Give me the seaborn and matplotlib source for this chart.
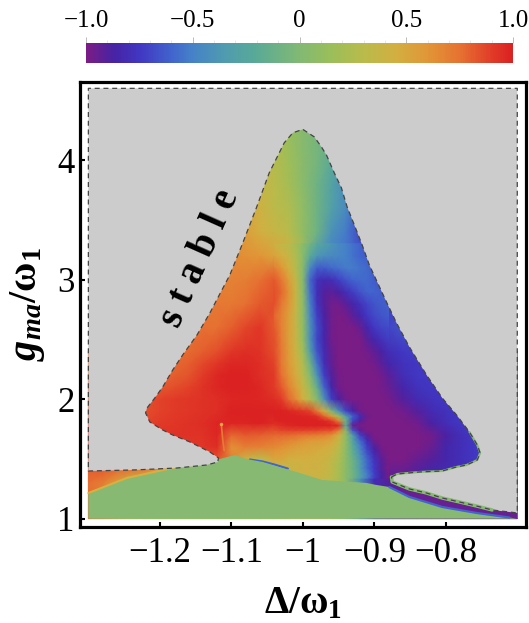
import numpy as np
import pandas as pd
import matplotlib
matplotlib.use("Agg")
import matplotlib.pyplot as plt
from matplotlib.colors import LinearSegmentedColormap
from matplotlib.transforms import Affine2D
import seaborn as sns

sns.set_style("white")
plt.rcParams["font.family"] = ["Liberation Serif", "DejaVu Serif"]
plt.rcParams["text.color"] = "black"
plt.rcParams["axes.labelcolor"] = "black"
plt.rcParams["xtick.color"] = "black"
plt.rcParams["ytick.color"] = "black"
plt.rcParams["mathtext.fontset"] = "custom"
plt.rcParams["mathtext.rm"] = "Liberation Serif"
plt.rcParams["mathtext.it"] = "Liberation Serif:italic"
plt.rcParams["mathtext.bf"] = "Liberation Serif:bold"
plt.rcParams["mathtext.bfit"] = "Liberation Serif:italic:bold"

# colour scale at the top
scale_nodes = [-1, -.87, -.75, -.6, -.5, -.35, -.2, 0, .15, .3, .45, .6, .75, .9, 1]
scale_colors = ["#7A1C86", "#4623A5", "#4137C3", "#4164CD", "#4682C8", "#509BAF", "#5AAA96", "#82B973",
                "#9BBE5A", "#B9BB4B", "#D2AF41", "#E19637", "#E67332", "#E13C28", "#DB2122"]

# field below g=2.4, in hundredths, x from -1.30 to -0.70 in steps of 0.02
lower_g = [1.0, 1.1, 1.2, 1.3, 1.4, 1.5, 1.6, 1.7, 1.8, 1.9, 2.0, 2.1, 2.2, 2.3, 2.4]
lower_rows = [
    [75, 70, 55, 30, 20, 20, 20, 20, 20, 20, 20, 20, 20, 20, 30, 35, 35, 30, 10, -40, -80, -90, -95, -95, -95, -95, -95, -95, -95, -95, -95],
    [75, 70, 55, 30, 20, 20, 20, 20, 20, 20, 20, 20, 20, 20, 30, 35, 35, 30, 10, -40, -80, -90, -95, -95, -95, -95, -95, -95, -95, -95, -95],
    [75, 70, 55, 30, 20, 20, 20, 20, 20, 20, 20, 20, 20, 20, 30, 35, 35, 30, 10, -40, -80, -90, -95, -95, -95, -95, -95, -95, -95, -95, -95],
    [75, 70, 55, 30, 20, 20, 20, 20, 20, 20, 20, 20, 20, 20, 30, 35, 35, 30, 10, -40, -80, -90, -95, -95, -95, -92, -90, -90, -90, -90, -90],
    [80, 80, 75, 70, 65, 60, 55, 45, 40, 40, 40, 40, 30, 30, 30, 35, 40, 30, 5, -50, -85, -95, -95, -90, -85, -82, -80, -78, -78, -78, -78],
    [85, 85, 85, 85, 85, 85, 85, 85, 85, 85, 70, 40, 30, 50, 40, 45, 48, 35, 10, -50, -85, -100, -100, -95, -90, -85, -80, -75, -72, -72, -72],
    [92, 92, 92, 92, 92, 92, 92, 92, 92, 95, 62, 70, 68, 65, 55, 55, 50, 40, 10, -55, -85, -100, -100, -100, -95, -85, -80, -75, -72, -72, -72],
    [93, 93, 93, 93, 93, 93, 93, 93, 93, 97, 78, 82, 80, 78, 65, 65, 60, 55, 5, -75, -95, -100, -100, -100, -97, -88, -80, -75, -72, -72, -72],
    [88, 88, 88, 88, 88, 90, 92, 93, 95, 98, 98, 98, 100, 96, 95, 92, 90, 87, -50, -95, -100, -100, -100, -97, -88, -80, -75, -72, -72, -72, -72],
    [85, 85, 85, 85, 85, 88, 90, 92, 93, 95, 100, 100, 100, 100, 95, 85, 65, -40, -85, -100, -100, -100, -97, -90, -82, -78, -75, -72, -72, -72, -72],
    [85, 85, 85, 85, 85, 88, 90, 92, 93, 95, 97, 98, 97, 95, 80, 55, 0, -75, -97, -100, -100, -98, -90, -82, -78, -75, -75, -75, -75, -75, -75],
    [80, 80, 80, 80, 80, 82, 85, 88, 93, 97, 100, 100, 97, 90, 70, 45, -15, -85, -100, -100, -100, -95, -85, -78, -75, -75, -75, -75, -75, -75, -75],
    [78, 78, 78, 78, 78, 78, 80, 83, 90, 97, 100, 100, 95, 90, 62, 30, -35, -90, -100, -100, -100, -92, -80, -75, -75, -75, -75, -75, -75, -75, -75],
    [75, 75, 75, 75, 75, 75, 78, 80, 86, 92, 97, 97, 95, 88, 55, 20, -50, -92, -100, -100, -97, -85, -78, -75, -75, -75, -75, -75, -75, -75, -75],
    [75, 75, 75, 75, 75, 75, 75, 77, 80, 85, 92, 95, 93, 85, 50, 10, -60, -95, -100, -100, -93, -80, -75, -72, -72, -72, -72, -72, -72, -72, -72],
]

# field above g=2.4, x from -1.20 to -0.82
upper_g = [2.4, 2.6, 2.8, 3.0, 3.2, 3.4, 3.6, 3.8, 4.0, 4.2, 4.4]
upper_rows = [
    [75, 75, 77, 80, 85, 92, 95, 93, 85, 50, 10, -60, -95, -100, -100, -93, -80, -75, -72, -72],
    [75, 75, 75, 75, 75, 80, 87, 92, 82, 55, 15, -60, -92, -100, -95, -80, -70, -65, -65, -65],
    [72, 72, 72, 72, 72, 72, 75, 82, 85, 65, 15, -70, -92, -95, -82, -65, -72, -72, -72, -72],
    [68, 68, 68, 68, 68, 68, 70, 75, 82, 70, 15, -75, -80, -65, -62, -70, -75, -75, -75, -75],
    [65, 65, 65, 65, 65, 65, 62, 60, 52, 45, 20, -35, -50, -55, -65, -72, -75, -75, -75, -75],
    [60, 60, 60, 60, 60, 60, 55, 45, 38, 30, 10, -10, -40, -52, -68, -72, -72, -72, -72, -72],
    [55, 55, 55, 55, 55, 55, 50, 42, 32, 25, 8, -10, -30, -45, -65, -65, -65, -65, -65, -65],
    [48, 48, 48, 48, 48, 48, 48, 38, 30, 20, 5, -10, -28, -45, -55, -55, -55, -55, -55, -55],
    [45, 45, 45, 45, 45, 45, 45, 35, 28, 17, 4, -6, -20, -35, -45, -45, -45, -45, -45, -45],
    [42, 42, 42, 42, 42, 42, 42, 33, 25, 14, 3, -5, -15, -25, -35, -35, -35, -35, -35, -35],
    [42, 42, 42, 42, 42, 42, 42, 33, 25, 14, 3, -5, -15, -25, -35, -35, -35, -35, -35, -35],
]

# finer reading of the central transition, x from -1.04 to -0.88 in steps of 0.01
mid_g = [1.9, 2.0, 2.1, 2.2, 2.3, 2.4, 2.5, 2.6, 2.7, 2.8, 2.9, 3.0, 3.1, 3.2, 3.3]
mid_rows = [
    [100, 100, 97, 95, 92, 88, 70, 42, -2, -42, -70, -86, -97, -100, -100, -100, -100],
    [95, 90, 78, 65, 45, 25, 2, -40, -72, -88, -97, -100, -100, -100, -100, -100, -98],
    [90, 82, 68, 55, 38, 15, -15, -60, -85, -97, -100, -100, -100, -100, -100, -98, -95],
    [90, 75, 62, 48, 30, 2, -40, -72, -90, -98, -100, -100, -100, -100, -100, -97, -92],
    [88, 72, 58, 45, 25, -10, -55, -80, -93, -100, -100, -100, -100, -100, -97, -92, -85],
    [85, 72, 57, 40, 18, -30, -65, -82, -95, -100, -100, -100, -100, -97, -93, -88, -80],
    [85, 70, 55, 38, 12, -40, -70, -85, -97, -100, -100, -100, -100, -92, -85, -78, -72],
    [82, 68, 55, 38, 10, -40, -68, -85, -97, -100, -100, -100, -95, -85, -75, -70, -68],
    [78, 68, 55, 35, 8, -45, -72, -88, -97, -100, -98, -92, -85, -75, -68, -65, -62],
    [85, 72, 60, 38, 8, -50, -78, -90, -97, -97, -92, -85, -78, -70, -65, -62, -62],
    [85, 78, 62, 38, 6, -55, -80, -90, -92, -88, -80, -72, -65, -60, -60, -62, -62],
    [82, 72, 55, 35, 3, -58, -78, -82, -80, -72, -65, -60, -58, -58, -62, -68, -68],
    [70, 60, 45, 28, 4, -45, -62, -62, -58, -55, -52, -52, -55, -58, -62, -68, -70],
    [52, 45, 38, 25, 5, -20, -38, -42, -45, -47, -50, -55, -60, -62, -66, -70, -72],
    [42, 35, 30, 20, 5, -8, -22, -30, -38, -45, -50, -55, -60, -65, -70, -70, -70],
]

# finer still round the point where all colours meet, g in steps of 0.04
core_g = [1.34, 1.38, 1.42, 1.46, 1.50, 1.54, 1.58, 1.62, 1.66, 1.70, 1.74, 1.78, 1.82, 1.86, 1.90]
core_rows = [
    [40, 40, 40, 40, 40, 40, 40, 38, 32, 22, 5, -8, -30, -52, -72, -87, -98],
    [40, 40, 40, 40, 40, 40, 40, 38, 32, 22, 5, -8, -30, -52, -72, -87, -98],
    [45, 40, 40, 42, 43, 43, 42, 40, 33, 22, 6, -10, -35, -58, -75, -90, -100],
    [45, 40, 40, 42, 43, 43, 42, 40, 33, 22, 6, -10, -35, -58, -75, -90, -100],
    [50, 50, 45, 45, 45, 45, 44, 42, 35, 25, 7, -12, -38, -60, -78, -92, -100],
    [55, 55, 50, 48, 47, 47, 45, 43, 38, 28, 7, -15, -42, -65, -82, -95, -100],
    [62, 60, 56, 53, 50, 50, 48, 46, 42, 30, 7, -18, -47, -70, -87, -97, -100],
    [68, 65, 62, 58, 55, 53, 52, 50, 46, 34, 8, -22, -52, -75, -92, -100, -100],
    [72, 71, 68, 66, 62, 60, 58, 56, 52, 38, 8, -28, -60, -82, -97, -100, -100],
    [78, 78, 77, 75, 73, 72, 70, 68, 62, 45, 8, -35, -72, -92, -100, -100, -100],
    [85, 87, 88, 88, 88, 87, 87, 85, 85, 70, 5, -65, -92, -100, -100, -100, -100],
    [92, 95, 97, 98, 100, 100, 100, 100, 100, 97, -20, -95, -100, -100, -100, -100, -100],
    [97, 100, 100, 100, 100, 100, 100, 97, 90, 68, -10, -70, -90, -100, -100, -100, -100],
    [100, 100, 100, 100, 98, 97, 93, 78, 55, 15, -32, -62, -82, -97, -100, -100, -100],
    [100, 100, 97, 95, 92, 88, 70, 42, -2, -42, -70, -86, -97, -100, -100, -100, -100],
]

# stability boundary, walked from the notch at the right round to the lower left
stable_x = [-.876, -.868, -.837, -.805, -.785, -.771, -.756, -.752, -.756, -.767, -.785, -.805, -.827, -.851, -.869, -.883,
            -.907, -.917, -.928, -.938, -.946, -.956, -.967, -.974, -.984, -1.0, -1.014, -1.026, -1.047, -1.065, -1.084,
            -1.102, -1.119, -1.130, -1.148, -1.168, -1.182, -1.196, -1.207, -1.218, -1.220, -1.214, -1.196, -1.182, -1.158,
            -1.130, -1.118, -1.119, -1.135, -1.176, -1.235, -1.3, -1.3, -.7, -.7, -.735, -.757, -.781, -.805, -.827, -.851, -.875, -.876]
stable_g = [1.349, 1.374, 1.391, 1.399, 1.433, 1.449, 1.491, 1.550, 1.617, 1.726, 1.868, 2.010, 2.203, 2.437, 2.638, 2.813,
            3.123, 3.290, 3.458, 3.608, 3.767, 3.893, 4.043, 4.110, 4.194, 4.257, 4.228, 4.144, 3.893, 3.600, 3.307,
            3.040, 2.847, 2.721, 2.537, 2.370, 2.244, 2.102, 2.010, 1.926, 1.885, 1.809, 1.742, 1.700, 1.642,
            1.558, 1.508, 1.474, 1.449, 1.424, 1.408, 1.399, 4.6, 4.6, 1.048, 1.073, 1.106, 1.140, 1.173, 1.215, 1.249, 1.307, 1.349]

# top edge of the green (no data) area
green_x = [-1.3, -1.246, -1.176, -1.135, -1.116, -1.095, -1.079, -1.056, -1.033, -1.009, -.973, -.911, -.897, -.879, -.851, -.805, -.757, -.711, -.7, -.7, -1.3]
green_g = [1.215, 1.341, 1.433, 1.466, 1.5, 1.533, 1.5, 1.474, 1.433, 1.391, 1.324, 1.299, 1.282, 1.265, 1.182, 1.098, 1.048, 1.010, 1.0, 1.0, 1.0]

# small details that the grid is too coarse for
sliver_x = [-1.074, -1.056, -1.040, -1.021]
sliver_g = [1.495, 1.478, 1.453, 1.419]
spur_x = [-1.114, -1.112, -1.110]
spur_g = [1.79, 1.66, 1.57]

xticks = [-1.2, -1.1, -1.0, -0.9, -0.8]
xticklabels = ["\u22121.2", "\u22121.1", "\u22121", "\u22120.9", "\u22120.8"]
yticks = [1, 2, 3, 4]
bar_ticks = [-1, -0.5, 0, 0.5, 1]
bar_labels = ["\u22121.0", "\u22120.5", "0", "0.5", "1.0"]

W, H = 529, 623
cmap = LinearSegmentedColormap.from_list("rainbow_m", [((v + 1) / 2, c) for v, c in zip(scale_nodes, scale_colors)])

fig = plt.figure(figsize=(W / 100, H / 100), dpi=100)
ax = fig.add_axes([80 / W, 1 - 527 / H, 446 / W, 445 / H])
cax = fig.add_axes([86 / W, 1 - 63 / H, 427 / W, 20.5 / H])

# heatmap draws on index coordinates, so move each mesh onto the data axes
patches = [
    (lower_rows, -1.3, lower_g[0], 0.02, 0.1),
    (upper_rows, -1.2, upper_g[0], 0.02, 0.2),
    (mid_rows, -1.04, mid_g[0], 0.01, 0.1),
    (core_rows, -1.04, core_g[0], 0.01, 0.04),
]
for i, (rows, x0, g0, dx, dg) in enumerate(patches):
    first = i == 0
    sns.heatmap(pd.DataFrame(rows) / 100, ax=ax, cmap=cmap, vmin=-1, vmax=1, shading="gouraud",
                xticklabels=False, yticklabels=False, cbar=first, cbar_ax=cax if first else None,
                cbar_kws={"orientation": "horizontal"} if first else None)
    ax.collections[i].set_transform(Affine2D().scale(dx, dg).translate(x0, g0) + ax.transData)

ax.set_xlim(-1.3117, -0.6878)
ax.set_ylim(0.9305, 4.653)

ax.plot(sliver_x, sliver_g, color=cmap(0.2), lw=1.6, zorder=3, solid_capstyle="round")
ax.plot(spur_x, spur_g, color="#E87A35", lw=1.2, zorder=3)
ax.plot(spur_x[:1], spur_g[:1], "o", color="#E0A840", ms=2.5, mew=0, zorder=3)
ax.fill(green_x, green_g, color="#87B972", lw=0, zorder=4)
ax.plot(green_x[:4], green_g[:4], color="#D8B040", lw=1.5, zorder=4)
ax.plot(green_x[13:18], green_g[13:18], color=cmap(0.2), lw=1.6, zorder=4)
ax.fill(stable_x, stable_g, color="#CCCCCC", lw=0, zorder=5)
ax.plot(stable_x[-8:], stable_g[-8:], color="#87B972", lw=2.5, zorder=5)
ax.plot(stable_x[:10], stable_g[:10], color="#87B972", lw=1.5, zorder=5)
ax.plot(stable_x, stable_g, color="#444444", lw=0.9, dashes=(4, 3), zorder=6)

ax.text(-1.144, 3.18, "s t a b l e", rotation=66, fontsize=28, fontweight="bold", ha="center", va="center", zorder=7,
        rotation_mode="anchor")

for side in ax.spines.values():
    side.set_visible(True)
    side.set_linewidth(2.3)
    side.set_color("black")
    side.set_zorder(8)

ax.set_xticks(xticks, xticklabels, fontsize=25)
ax.set_yticks(yticks, [str(v) for v in yticks], fontsize=25)
ax.tick_params(axis="x", direction="in", length=3.6, width=1.5, color="black", pad=7, bottom=True)
ax.tick_params(axis="y", direction="in", length=3.6, width=1.5, color="black", pad=4, left=True)
ax.set_xlabel(r"$\mathbf{\Delta/\omega_1}$", fontsize=28, labelpad=11)
ax.set_ylabel(r"$\mathbfit{g_{ma}}\mathbf{/\omega_1}$", fontsize=29, labelpad=7)

cax.xaxis.set_ticks_position("top")
cax.set_xticks(bar_ticks, bar_labels, fontsize=18)
cax.set_xticks([v / 10 for v in range(-10, 11)], minor=True)
cax.tick_params(axis="x", which="major", direction="out", length=4.3, width=0.7, color="#BBBBBB", pad=3, top=True)
cax.tick_params(axis="x", which="minor", direction="out", length=2.2, width=0.5, color="#DDDDDD", top=True)

fig.savefig("out.png", dpi=100)
